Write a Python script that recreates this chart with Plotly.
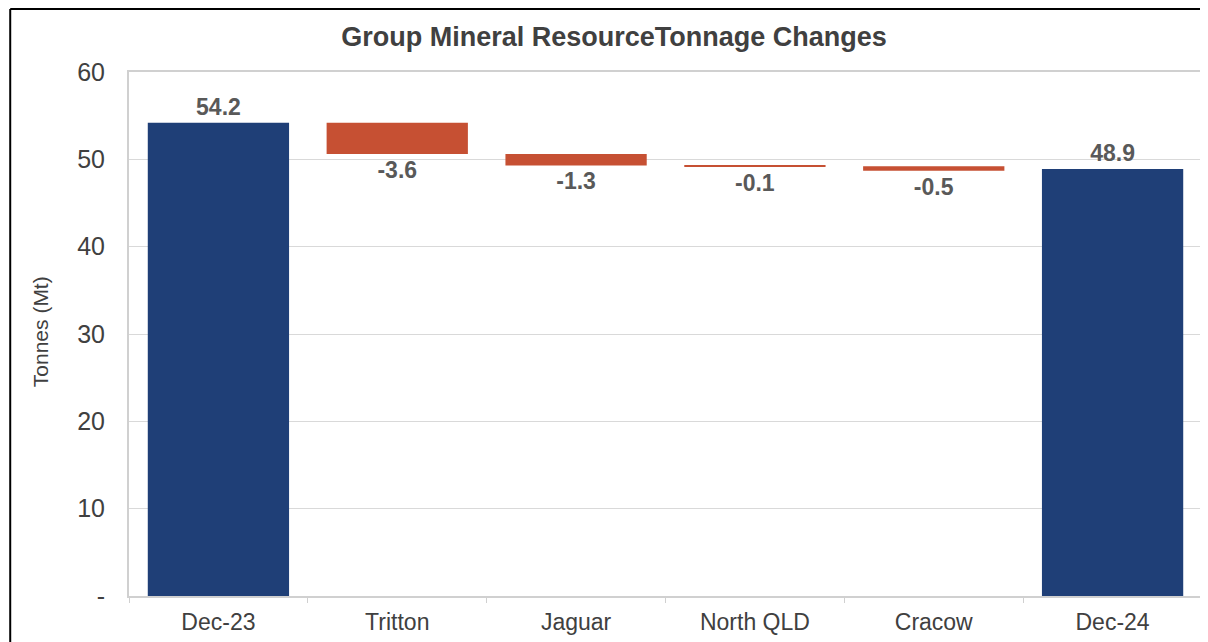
import plotly.graph_objects as go

categories = ["Dec-23", "Tritton", "Jaguar", "North QLD", "Cracow", "Dec-24"]
values = [54.2, -3.6, -1.3, -0.1, -0.5, 48.9]
measures = ["absolute", "relative", "relative", "relative", "relative", "absolute"]
labels = ["54.2", "-3.6", "-1.3", "-0.1", "-0.5", "48.9"]
tick_vals = [0, 10, 20, 30, 40, 50, 60]
tick_text = ["-", "10", "20", "30", "40", "50", "60"]

NAVY = "#1F3F77"
ORANGE = "#C65033"

fig = go.Figure(go.Waterfall(
    x=categories,
    y=values,
    measure=measures,
    text=labels,
    textposition="outside",
    textfont=dict(family="Liberation Sans", size=23, color="#595959", weight="bold"),
    width=0.79,
    connector=dict(visible=False),
    increasing=dict(marker=dict(color=NAVY)),
    decreasing=dict(marker=dict(color=ORANGE)),
    totals=dict(marker=dict(color=NAVY)),
    cliponaxis=False,
))

fig.update_layout(
    width=1200, height=634,
    margin=dict(l=121, r=4, t=64, b=46),
    paper_bgcolor="white", plot_bgcolor="white",
    showlegend=False,
    title=dict(text="Group Mineral ResourceTonnage Changes",
               x=(614 - 8) / 1200, xref="container", xanchor="center",
               y=1 - 29 / 634, yanchor="middle",
               font=dict(family="Liberation Sans", size=27, color="#404040", weight="bold")),
    font=dict(family="Liberation Sans", color="#404040"),
    xaxis=dict(
        tickfont=dict(size=23, color="#404040"),
        showline=True, linecolor="#D0D0D0", linewidth=2, mirror=True,
        tickson="boundaries", ticks="outside", ticklen=5, tickcolor="#D0D0D0",
        showgrid=False, ticklabelstandoff=4,
    ),
    yaxis=dict(
        range=[0, 60],
        tickvals=tick_vals, ticktext=tick_text,
        tickfont=dict(size=25, color="#404040"),
        showgrid=True, gridcolor="#D9D9D9", gridwidth=1,
        showline=True, linecolor="#D0D0D0", linewidth=2, mirror=True,
        zeroline=False, ticks="", ticklabelstandoff=17,
    ),
    annotations=[
        dict(text="Tonnes (Mt)", textangle=-90, xref="paper", yref="paper",
             x=(32 - 121) / 1075, y=(588 - 324) / 524, xanchor="center", yanchor="middle",
             showarrow=False, font=dict(family="Liberation Sans", size=21, color="#404040")),
    ],
    shapes=[
        dict(type="line", xref="paper", yref="paper",
             x0=-0.1107, x1=-0.1107, y0=-0.1, y1=1.1202,
             line=dict(color="black", width=2)),
        dict(type="line", xref="paper", yref="paper",
             x0=-0.1107, x1=1.01, y0=1.1202, y1=1.1202,
             line=dict(color="black", width=2)),
    ],
)

fig.write_html("out.html")
